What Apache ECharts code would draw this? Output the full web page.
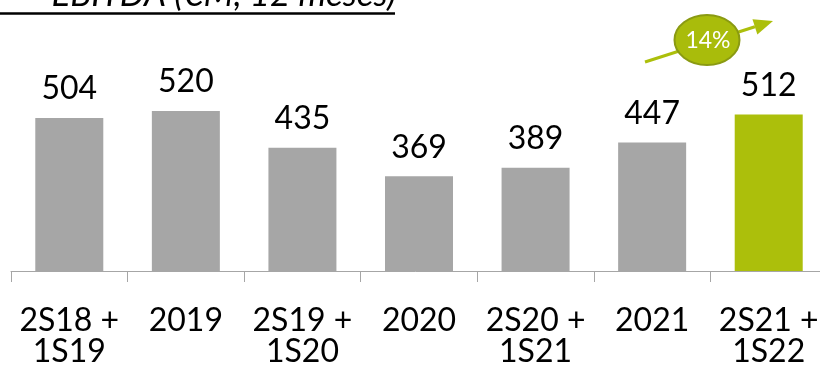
<!DOCTYPE html>
<html>
<head>
<meta charset="utf-8">
<style>
  html, body { margin: 0; padding: 0; background: #ffffff; }
  #chart { width: 820px; height: 367px; }
</style>
<script src="https://cdn.jsdelivr.net/npm/echarts@6/dist/echarts.min.js"></script>
</head>
<body>
<div id="chart"></div>
<script>
// EBITDA over rolling 12-month windows (€M)
const categories = ['2S18 +\n1S19', '2019', '2S19 +\n1S20', '2020', '2S20 +\n1S21', '2021', '2S21 +\n1S22'];
const ebitda = [504, 520, 435, 369, 389, 447, 512];
const titleText = 'EBITDA (€M, 12 meses)';

const GREY = '#a6a6a6';
const GREEN = '#acbf0b';
const FONT = 'Lato, "Open Sans", sans-serif';

// growth of the latest window against the last full year
const last = ebitda[ebitda.length - 1];
const prev = ebitda[ebitda.length - 2];
const growthLabel = Math.floor((last / prev - 1) * 100) + '%';

const chart = echarts.init(document.getElementById('chart'), null, { renderer: 'canvas' });

// arrow geometry for the growth badge
const ax0 = 645, ay0 = 62, ax1 = 773, ay1 = 21;
const dx = ax1 - ax0, dy = ay1 - ay0, len = Math.hypot(dx, dy);
const ux = dx / len, uy = dy / len;
const headLen = 19, headHalf = 8;
const bx = ax1 - ux * headLen, by = ay1 - uy * headLen;

chart.setOption({
  animation: false,
  // the plot runs a little past the right edge of the canvas
  grid: {
    left: 11, width: 816, top: 76.4, bottom: 96,
    containLabel: false,
    outerBoundsMode: 'none'
  },
  xAxis: {
    type: 'category',
    data: categories,
    boundaryGap: true,
    axisLine: { lineStyle: { color: '#a6a6a6', width: 1 } },
    axisTick: { show: true, length: 11, lineStyle: { color: '#a6a6a6', width: 1 } },
    axisLabel: {
      interval: 0,
      color: '#000000',
      fontFamily: FONT,
      fontSize: 32,
      lineHeight: 31,
      margin: 34
    }
  },
  yAxis: {
    type: 'value',
    min: 150,
    max: 600,
    show: false,
    splitLine: { show: false }
  },
  series: [{
    type: 'bar',
    barWidth: 68,
    data: ebitda.map((v, i) => ({
      value: v,
      itemStyle: { color: i === ebitda.length - 1 ? GREEN : GREY }
    })),
    label: {
      show: true,
      position: 'top',
      distance: 13,
      color: '#000000',
      fontFamily: FONT,
      fontSize: 32
    }
  }],
  graphic: [
    {
      type: 'text',
      right: 820 - 396,
      top: -23,
      style: {
        text: titleText,
        font: 'italic 35px ' + FONT,
        fill: '#000000'
      }
    },
    {
      type: 'line',
      shape: { x1: 0, y1: 13.5, x2: 395, y2: 13.5 },
      style: { stroke: '#000000', lineWidth: 2.5 }
    },
    {
      type: 'line',
      shape: { x1: ax0, y1: ay0, x2: bx, y2: by },
      style: { stroke: GREEN, lineWidth: 3 }
    },
    {
      type: 'polygon',
      shape: {
        points: [
          [ax1, ay1],
          [bx - uy * headHalf, by + ux * headHalf],
          [bx + uy * headHalf, by - ux * headHalf]
        ]
      },
      style: { fill: GREEN }
    },
    {
      type: 'ellipse',
      shape: { cx: 707, cy: 40, rx: 32.5, ry: 25 },
      style: { fill: '#a9bc0b', stroke: '#8a9a12', lineWidth: 2 }
    },
    {
      type: 'text',
      x: 708,
      y: 41,
      style: {
        text: growthLabel,
        font: '23px ' + FONT,
        fill: '#ffffff',
        textAlign: 'center',
        textVerticalAlign: 'middle'
      }
    }
  ]
});
</script>
</body>
</html>
